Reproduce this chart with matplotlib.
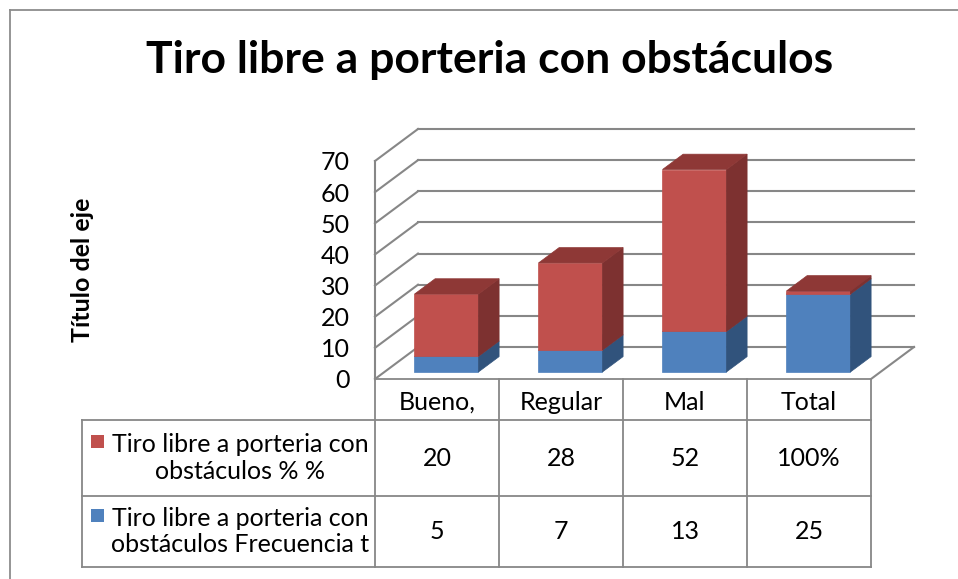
import numpy as np
import matplotlib
matplotlib.use('Agg')
import matplotlib.pyplot as plt
from matplotlib.patches import Polygon, Rectangle
from matplotlib.lines import Line2D

# Chart data
categories = ['Bueno,', 'Regular', 'Mal', 'Total']
pct_values = [20, 28, 52, 1]          # red series (Total = 100% -> 1)
freq_values = [5, 7, 13, 25]          # blue series
pct_labels = ['20', '28', '52', '100%']
freq_labels = ['5', '7', '13', '25']
series_names = ['Tiro libre a porteria con\nobstáculos % %',
                'Tiro libre a porteria con\nobstáculos Frecuencia t']
y_ticks = [0, 10, 20, 30, 40, 50, 60, 70]

plt.rcParams['font.family'] = ['Lato', 'DejaVu Sans']

W, H = 958, 579
fig = plt.figure(figsize=(W / 100, H / 100), dpi=100)

# overlay axes in pixel coordinates for frame and table
ov = fig.add_axes([0, 0, 1, 1])
ov.set_xlim(0, W)
ov.set_ylim(H, 0)
ov.axis('off')

grid_col = '#878787'
ov.plot([10, 10], [10, H + 5], color='#8c8c8c', lw=1.3)
ov.plot([10, W + 5], [10, 10], color='#8c8c8c', lw=1.3)

# title
fig.text(0.5 * (147 + 833) / W, 1 - 60 / H, 'Tiro libre a porteria con obstáculos',
         ha='center', va='center', fontsize=32, fontweight='bold')
fig.text(83 / W, 1 - 270 / H, 'Título del eje', rotation=90,
         ha='center', va='center', fontsize=18, fontweight='bold')

# main axes = front plane of the 3D box
left, right, top, bottom = 375, 871, 161, 379
ax = fig.add_axes([left / W, 1 - bottom / H, (right - left) / W, (bottom - top) / H])
ax.set_xlim(0, len(categories))
ax.set_ylim(0, 70)
for s in ax.spines.values():
    s.set_visible(False)
ax.set_xticks([])
ax.set_yticks(y_ticks)
ax.tick_params(axis='y', length=0, pad=18, labelsize=18)
ax.patch.set_alpha(0)

ppu_x = (right - left) / len(categories)
ppu_y = (bottom - top) / 70.0
DX = 43 / ppu_x
DY = 32 / ppu_y
n = len(categories)

def gl(xs, ys, z=1):
    ax.add_line(Line2D(xs, ys, color=grid_col, lw=1.5, zorder=z, clip_on=False))

for v in y_ticks:
    gl([DX, n + DX], [v + DY, v + DY])      # back wall
    gl([0, DX], [v, v + DY])                # side wall
gl([0, 0], [0, 70])
gl([n, n + DX], [0, DY])

# bars
d0, d1 = 0.22, 0.70
bw = 64 / ppu_x
colors = {
    'blue': ('#4F81BD', '#31537C', '#3E6796'),
    'red': ('#C0504D', '#7D3130', '#8E3836'),
}

def bar3d(xc, y0, y1, cols, z):
    front, side, topc = cols
    ox, oy = d0 * DX, d0 * DY
    bx, by = (d1 - d0) * DX, (d1 - d0) * DY
    l, r = xc - bw / 2 + ox, xc + bw / 2 + ox
    b, t = y0 + oy, y1 + oy
    polys = [
        ([(l, b), (r, b), (r, t), (l, t)], front),
        ([(r, b), (r + bx, b + by), (r + bx, t + by), (r, t)], side),
        ([(l, t), (r, t), (r + bx, t + by), (l + bx, t + by)], topc),
    ]
    for k, (pts, c) in enumerate(polys):
        ax.add_patch(Polygon(pts, closed=True, facecolor=c, edgecolor=c,
                             lw=0.5, zorder=z + k * 0.1, clip_on=False))

for i in range(n):
    xc = i + 0.5
    bar3d(xc, 0, freq_values[i], colors['blue'], 5 + i)
    bar3d(xc, freq_values[i], freq_values[i] + pct_values[i], colors['red'], 5.5 + i)

# data table
col_x = [left + ppu_x * k for k in range(n + 1)]
row_y = [379, 420, 496, 567]
tab_left = 82
lw_t = 1.3
ov.plot([col_x[0], col_x[-1]], [row_y[0], row_y[0]], color=grid_col, lw=lw_t)
for yy in row_y[1:]:
    ov.plot([tab_left, col_x[-1]], [yy, yy], color=grid_col, lw=lw_t)
for xx in col_x:
    ov.plot([xx, xx], [row_y[0], row_y[-1]], color=grid_col, lw=lw_t)
ov.plot([tab_left, tab_left], [row_y[1], row_y[-1]], color=grid_col, lw=lw_t)

fs_tab = 18
for i, cat in enumerate(categories):
    cx = (col_x[i] + col_x[i + 1]) / 2
    ov.text(cx, (row_y[0] + row_y[1]) / 2 + 3, cat, ha='center', va='center', fontsize=fs_tab)
    ov.text(cx, (row_y[1] + row_y[2]) / 2, pct_labels[i], ha='center', va='center', fontsize=fs_tab)
    ov.text(cx, (row_y[2] + row_y[3]) / 2, freq_labels[i], ha='center', va='center', fontsize=fs_tab)

for k, (name, c) in enumerate(zip(series_names, ['#C0504D', '#4F81BD'])):
    y_mid = (row_y[k + 1] + row_y[k + 2]) / 2
    ov.text(240, y_mid, name, ha='center', va='center', fontsize=fs_tab,
            multialignment='center', linespacing=1.2)
    ov.add_patch(Rectangle((91, y_mid - 23), 13, 13, facecolor=c, edgecolor='none'))

fig.savefig('out.png', dpi=100)
